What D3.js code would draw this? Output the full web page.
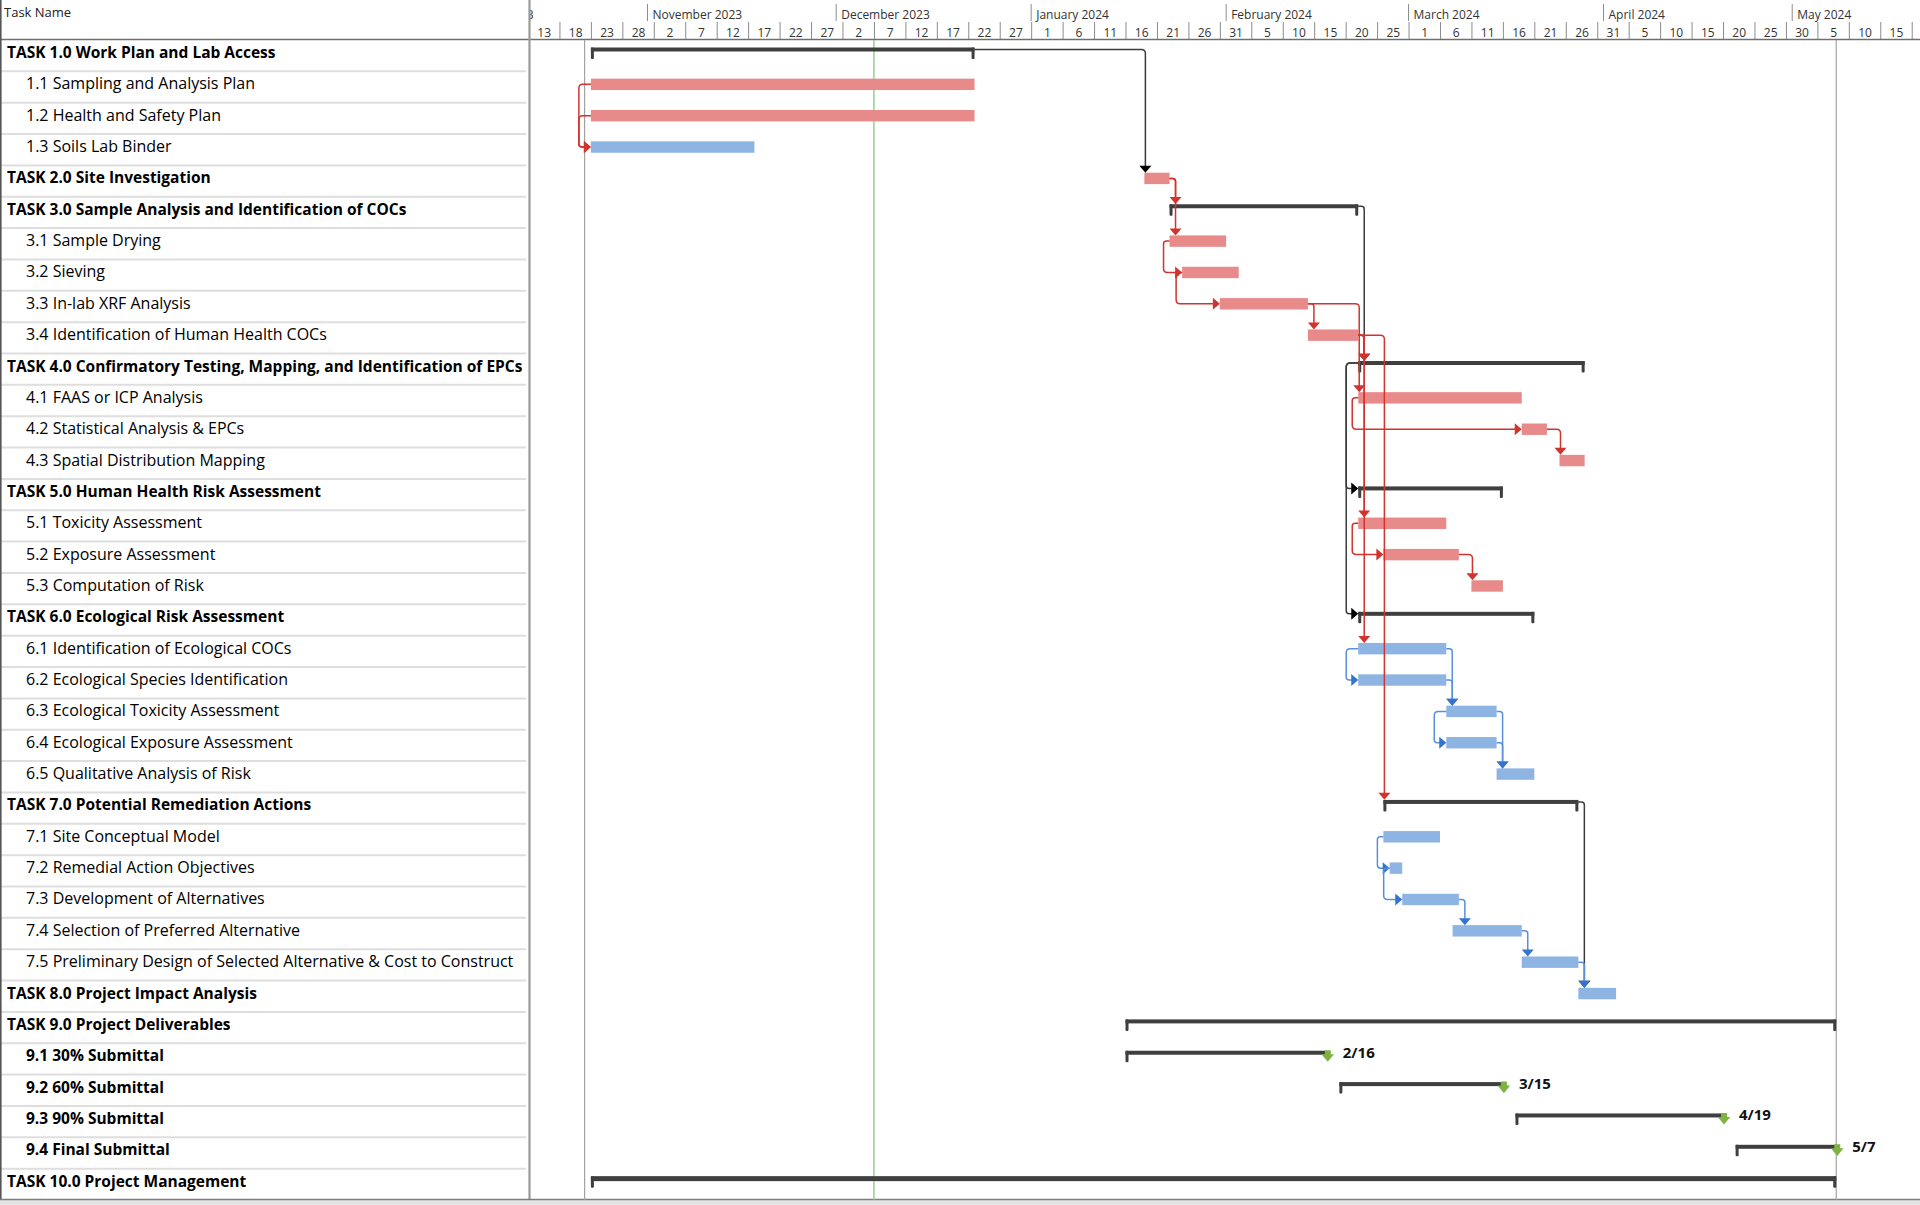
<!DOCTYPE html>
<html>
<head>
<meta charset="utf-8">
<script src="https://cdn.jsdelivr.net/npm/d3@7"></script>
<style>
  body { margin: 0; background: #fff; }
  svg { display: block; }
</style>
</head>
<body>
<div id="app"></div>
<script>
// Task list (one row each, top to bottom)
const taskNames = [
  "TASK 1.0 Work Plan and Lab Access",
  "1.1 Sampling and Analysis Plan",
  "1.2 Health and Safety Plan",
  "1.3 Soils Lab Binder",
  "TASK 2.0 Site Investigation",
  "TASK 3.0 Sample Analysis and Identification of COCs",
  "3.1 Sample Drying",
  "3.2 Sieving",
  "3.3 In-lab XRF Analysis",
  "3.4 Identification of Human Health COCs",
  "TASK 4.0 Confirmatory Testing, Mapping, and Identification of EPCs",
  "4.1 FAAS or ICP Analysis",
  "4.2 Statistical Analysis & EPCs",
  "4.3 Spatial Distribution Mapping",
  "TASK 5.0 Human Health Risk Assessment",
  "5.1 Toxicity Assessment",
  "5.2 Exposure Assessment",
  "5.3 Computation of Risk",
  "TASK 6.0 Ecological Risk Assessment",
  "6.1 Identification of Ecological COCs",
  "6.2 Ecological Species Identification",
  "6.3 Ecological Toxicity Assessment",
  "6.4 Ecological Exposure Assessment",
  "6.5 Qualitative Analysis of Risk",
  "TASK 7.0 Potential Remediation Actions",
  "7.1 Site Conceptual Model",
  "7.2 Remedial Action Objectives",
  "7.3 Development of Alternatives",
  "7.4 Selection of Preferred Alternative",
  "7.5 Preliminary Design of Selected Alternative & Cost to Construct",
  "TASK 8.0 Project Impact Analysis",
  "TASK 9.0 Project Deliverables",
  "9.1 30% Submittal",
  "9.2 60% Submittal",
  "9.3 90% Submittal",
  "9.4 Final Submittal",
  "TASK 10.0 Project Management"
];

// Outline level of each row
const taskLevels = [1, 2, 2, 2, 1, 1, 2, 2, 2, 2, 1, 2, 2, 2, 1, 2, 2, 2, 1, 2, 2, 2, 2, 2,
  1, 2, 2, 2, 2, 2, 1, 1, 2, 2, 2, 2, 1];

// summary | critical | normal | deliverable (summary bar ending in a milestone)
const taskKinds = [
  "summary", "critical", "critical", "normal", "critical",
  "summary", "critical", "critical", "critical", "critical",
  "summary", "critical", "critical", "critical",
  "summary", "critical", "critical", "critical",
  "summary", "normal", "normal", "normal", "normal", "normal",
  "summary", "normal", "normal", "normal", "normal", "normal",
  "normal",
  "summary", "deliverable", "deliverable", "deliverable", "deliverable",
  "summary"
];

const taskStarts = [
  "2023-10-23", "2023-10-23", "2023-10-23", "2023-10-23", "2024-01-19",
  "2024-01-23", "2024-01-23", "2024-01-25", "2024-01-31", "2024-02-14",
  "2024-02-22", "2024-02-22", "2024-03-19", "2024-03-25",
  "2024-02-22", "2024-02-22", "2024-02-26", "2024-03-11",
  "2024-02-22", "2024-02-22", "2024-02-22", "2024-03-07", "2024-03-07", "2024-03-15",
  "2024-02-26", "2024-02-26", "2024-02-27", "2024-02-29", "2024-03-08", "2024-03-19",
  "2024-03-28",
  "2024-01-16", "2024-01-16", "2024-02-19", "2024-03-18", "2024-04-22",
  "2023-10-23"
];

// Last working day of each task (inclusive)
const taskFinishes = [
  "2023-12-22", "2023-12-22", "2023-12-22", "2023-11-17", "2024-01-22",
  "2024-02-21", "2024-01-31", "2024-02-02", "2024-02-13", "2024-02-21",
  "2024-03-28", "2024-03-18", "2024-03-22", "2024-03-28",
  "2024-03-15", "2024-03-06", "2024-03-08", "2024-03-15",
  "2024-03-20", "2024-03-06", "2024-03-06", "2024-03-14", "2024-03-14", "2024-03-20",
  "2024-03-27", "2024-03-05", "2024-02-28", "2024-03-08", "2024-03-18", "2024-03-27",
  "2024-04-02",
  "2024-05-07", "2024-02-16", "2024-03-15", "2024-04-19", "2024-05-07",
  "2024-05-07"
];

const deliverableLabels = ["2/16", "3/15", "4/19", "5/7"];

// Predecessor, successor, link type
const links = [
  ["1.1", "1.3", "SS"], ["1.2", "1.3", "SS"],
  ["1.0", "2.0", "FS"],
  ["2.0", "3.0", "FS"], ["2.0", "3.1", "FS"],
  ["3.1", "3.2", "SS"], ["3.2", "3.3", "SS"],
  ["3.3", "3.4", "FS"], ["3.3", "4.1", "FS"],
  ["3.0", "4.0", "FS"],
  ["3.4", "4.0", "FS"], ["3.4", "5.1", "FS"], ["3.4", "6.1", "FS"], ["3.4", "7.0", "FS"],
  ["4.1", "4.2", "SS"], ["4.2", "4.3", "FS"],
  ["4.0", "5.0", "SS"], ["4.0", "6.0", "SS"],
  ["5.1", "5.2", "SS"], ["5.2", "5.3", "FS"],
  ["6.1", "6.2", "SS"], ["6.1", "6.3", "FS"], ["6.2", "6.3", "FS"],
  ["6.3", "6.4", "SS"], ["6.3", "6.5", "FS"], ["6.4", "6.5", "FS"],
  ["7.1", "7.2", "SS"], ["7.2", "7.3", "SS"],
  ["7.3", "7.4", "FS"], ["7.4", "7.5", "FS"], ["7.5", "8.0", "FS"],
  ["7.0", "8.0", "FS"]
];

const timelineStart = "2023-10-13";
const timelineEnd = "2024-05-21";
const projectLines = ["2023-10-22", "2024-05-08"];
const currentDate = "2023-12-07";

// ---------------------------------------------------------------
const W = 1920, H = 1205;
const tableW = 529, headerH = 40, bottom = 1200;
const font = "'Open Sans', 'Noto Sans', sans-serif";

const parse = d3.timeParse("%Y-%m-%d");

const tasks = taskNames.map((name, i) => ({
  id: name.match(/\d+\.\d+/)[0],
  name,
  level: taskLevels[i],
  kind: taskKinds[i],
  start: parse(taskStarts[i]),
  end: d3.timeDay.offset(parse(taskFinishes[i]), 1)
}));
const byId = new Map(tasks.map((d) => [d.id, d]));
let di = 0;
tasks.forEach((d) => { if (d.kind === "deliverable") d.label = deliverableLabels[di++]; });

const x = d3.scaleTime()
  .domain([parse(timelineStart), parse(timelineEnd)])
  .range([528, 1918]);

const y = d3.scaleBand()
  .domain(tasks.map((d) => d.id))
  .range([headerH, bottom]);

const svg = d3.select("#app")
  .append("svg")
  .attr("width", W)
  .attr("height", H)
  .attr("viewBox", [0, 0, W, H])
  .style("font-family", font);

svg.append("rect").attr("width", W).attr("height", H).attr("fill", "#fff");

svg.append("defs").append("clipPath").attr("id", "chart-clip")
  .append("rect").attr("x", tableW + 1).attr("y", 0).attr("width", W - tableW).attr("height", H);
svg.select("defs").append("clipPath").attr("id", "table-clip")
  .append("rect").attr("x", 0).attr("y", 0).attr("width", tableW - 3).attr("height", H);

// ---------- table ----------
const table = svg.append("g").attr("clip-path", "url(#table-clip)");

table.append("g")
  .selectAll("line")
  .data(tasks)
  .join("line")
  .attr("x1", 0).attr("x2", tableW)
  .attr("y1", (d) => y(d.id) + y.bandwidth())
  .attr("y2", (d) => y(d.id) + y.bandwidth())
  .attr("stroke", "#dedede")
  .attr("stroke-width", 2);

const isBold = (d) => d.level === 1 || d.kind === "deliverable";
table.append("g")
  .selectAll("text")
  .data(tasks)
  .join("text")
  .attr("x", (d) => (d.level === 1 ? 7 : 26))
  .attr("y", (d) => y(d.id) + 18)
  .attr("font-size", (d) => (isBold(d) ? 15.5 : 16))
  .attr("font-weight", (d) => (isBold(d) ? 700 : 400))
  .attr("fill", "#000")
  .text((d) => d.name);

table.append("text")
  .attr("x", 4).attr("y", 16.5)
  .attr("font-size", 13)
  .attr("fill", "#222")
  .text("Task Name");

// ---------- timescale ----------
const head = svg.append("g").attr("clip-path", "url(#chart-clip)");

const months = d3.timeMonth.range(d3.timeMonth.floor(x.domain()[0]), x.domain()[1]);
head.append("g")
  .selectAll("line")
  .data(months)
  .join("line")
  .attr("x1", (d) => x(d)).attr("x2", (d) => x(d))
  .attr("y1", 4).attr("y2", 21)
  .attr("stroke", "#8c8c8c");
head.append("g")
  .selectAll("text")
  .data(months)
  .join("text")
  .attr("x", (d) => x(d) + 5)
  .attr("y", 19)
  .attr("font-size", 12)
  .attr("fill", "#333")
  .text(d3.timeFormat("%B %Y"));

// 5-day cells; the last cell only shows its left edge
const days = d3.timeDay.range(x.domain()[0], x.domain()[1], 5);
const dayAxis = d3.axisBottom(x)
  .tickValues(days)
  .tickFormat((d) => (x(d3.timeDay.offset(d, 5)) <= W ? d3.timeFormat("%-d")(d) : ""))
  .tickSize(17)
  .tickPadding(0);
head.append("g")
  .attr("transform", "translate(0,22)")
  .call(dayAxis)
  .call((g) => g.select(".domain").remove())
  .call((g) => g.selectAll(".tick line").attr("stroke", "#8c8c8c"))
  .call((g) => g.selectAll(".tick text")
    .attr("x", (d) => (x(d3.timeDay.offset(d, 5)) - x(d)) / 2)
    .attr("y", 15)
    .attr("dy", 0)
    .attr("font-family", font)
    .attr("font-size", 12)
    .attr("fill", "#333"));

// ---------- frame ----------
svg.append("line").attr("x1", 0).attr("x2", W).attr("y1", 39.5).attr("y2", 39.5)
  .attr("stroke", "#6f6f6f").attr("stroke-width", 1.6);
svg.append("line").attr("x1", tableW + 0.5).attr("x2", tableW + 0.5).attr("y1", 0).attr("y2", bottom)
  .attr("stroke", "#9a9a9a").attr("stroke-width", 2.2);
svg.append("line").attr("x1", 0.8).attr("x2", 0.8).attr("y1", 0).attr("y2", bottom)
  .attr("stroke", "#555").attr("stroke-width", 1.6);
svg.append("rect").attr("x", 0).attr("y", bottom).attr("width", W).attr("height", H - bottom)
  .attr("fill", "#e4e4e4");
svg.append("line").attr("x1", 0).attr("x2", W).attr("y1", bottom - 0.5).attr("y2", bottom - 0.5)
  .attr("stroke", "#7d7d7d").attr("stroke-width", 1.4);

// ---------- chart ----------
const chart = svg.append("g").attr("clip-path", "url(#chart-clip)");

chart.append("g")
  .selectAll("line")
  .data(projectLines.map(parse))
  .join("line")
  .attr("x1", (d) => x(d)).attr("x2", (d) => x(d))
  .attr("y1", headerH).attr("y2", bottom)
  .attr("stroke", "#a3a3a3").attr("stroke-width", 1.2);

chart.append("line")
  .attr("x1", x(parse(currentDate))).attr("x2", x(parse(currentDate)))
  .attr("y1", headerH).attr("y2", bottom)
  .attr("stroke", "#8ccc8c").attr("stroke-width", 1.4);

const barColor = { critical: "#e8898a", normal: "#8db4e3" };
const isSummary = (d) => d.kind === "summary" || d.kind === "deliverable";

// task bars
chart.append("g")
  .selectAll("rect")
  .data(tasks.filter((d) => !isSummary(d)))
  .join("rect")
  .attr("x", (d) => x(d.start))
  .attr("y", (d) => y(d.id) + 7.3)
  .attr("width", (d) => x(d.end) - x(d.start))
  .attr("height", 11.4)
  .attr("fill", (d) => barColor[d.kind]);

// summary bars with end caps
const sums = chart.append("g")
  .selectAll("g")
  .data(tasks.filter(isSummary))
  .join("g")
  .attr("fill", "#3f3f3f");
sums.append("rect")
  .attr("x", (d) => x(d.start))
  .attr("y", (d) => y(d.id) + 7.5)
  .attr("width", (d) => x(d.end) - x(d.start))
  .attr("height", (d) => (d.id === "10.0" ? 5 : 4));
sums.append("rect")
  .attr("x", (d) => x(d.start))
  .attr("y", (d) => y(d.id) + 7.5)
  .attr("width", 3)
  .attr("height", 11.5)
  .attr("rx", 1);
sums.filter((d) => d.kind === "summary").append("rect")
  .attr("x", (d) => x(d.end) - 3)
  .attr("y", (d) => y(d.id) + 7.5)
  .attr("width", 3)
  .attr("height", 11.5)
  .attr("rx", 1);

// deliverable milestones
const dels = chart.append("g")
  .selectAll("g")
  .data(tasks.filter((d) => d.kind === "deliverable"))
  .join("g")
  .attr("transform", (d) => `translate(${x(d.end) + 1},${y(d.id)})`);
dels.append("path")
  .attr("d", "M-3,7 L3,7 L3,11 L6.3,11 L0,18.6 L-6.3,11 L-3,11 Z")
  .attr("fill", "#7cb342");
dels.append("text")
  .attr("x", 15)
  .attr("y", 14.5)
  .attr("font-size", 15)
  .attr("font-weight", 700)
  .attr("fill", "#111")
  .text((d) => d.label);

// ---------- links ----------
function roundedPath(pts, r) {
  let p = `M${pts[0][0]},${pts[0][1]}`;
  for (let i = 1; i < pts.length - 1; i++) {
    const [x0, y0] = pts[i - 1], [x1, y1] = pts[i], [x2, y2] = pts[i + 1];
    const d1 = Math.hypot(x1 - x0, y1 - y0) || 1, d2 = Math.hypot(x2 - x1, y2 - y1) || 1;
    const rr = Math.min(r, d1 / 2, d2 / 2);
    p += `L${x1 - ((x1 - x0) / d1) * rr},${y1 - ((y1 - y0) / d1) * rr}`;
    p += `Q${x1},${y1} ${x1 + ((x2 - x1) / d2) * rr},${y1 + ((y2 - y1) / d2) * rr}`;
  }
  const last = pts[pts.length - 1];
  return p + `L${last[0]},${last[1]}`;
}

const midY = (d) => y(d.id) + (isSummary(d) ? 9.5 : 13);
const topY = (d) => y(d.id) + 7.3;

const linkColor = (p) =>
  p.kind === "summary" ? ["#3c3c3c", "#000"] : p.kind === "critical" ? ["#d3332e", "#d3332e"] : ["#5a8fd9", "#3473cf"];

const linkData = links.map(([a, b, type]) => {
  const p = byId.get(a), s = byId.get(b);
  const [line, head] = linkColor(p);
  let pts, arrow;
  if (type === "FS") {
    const px = x(p.end), py = midY(p);
    const vx = Math.max(px + 6, x(s.start) + 1);
    const ty = topY(s);
    pts = [[px, py], [vx, py], [vx, ty - 6]];
    arrow = `M${vx - 6},${ty - 7}L${vx + 6},${ty - 7}L${vx},${ty}Z`;
  } else {
    const px = x(p.start), py = midY(p);
    const sx = x(s.start), sy = midY(s);
    const lx = Math.min(px - 6, sx - 12);
    pts = [[px, py], [lx, py], [lx, sy], [sx - 6, sy]];
    arrow = `M${sx - 7},${sy - 6}L${sx - 7},${sy + 6}L${sx},${sy}Z`;
  }
  const order = p.kind === "summary" ? 0 : p.kind === "normal" ? 1 : 2;
  return { path: roundedPath(pts, 4), arrow, line, head, order };
}).sort((a, b) => a.order - b.order);

const lk = chart.append("g")
  .selectAll("g")
  .data(linkData)
  .join("g");
lk.append("path")
  .attr("d", (d) => d.path)
  .attr("fill", "none")
  .attr("stroke", (d) => d.line)
  .attr("stroke-width", 1.5);
lk.append("path")
  .attr("d", (d) => d.arrow)
  .attr("fill", (d) => d.head);
</script>
</body>
</html>
